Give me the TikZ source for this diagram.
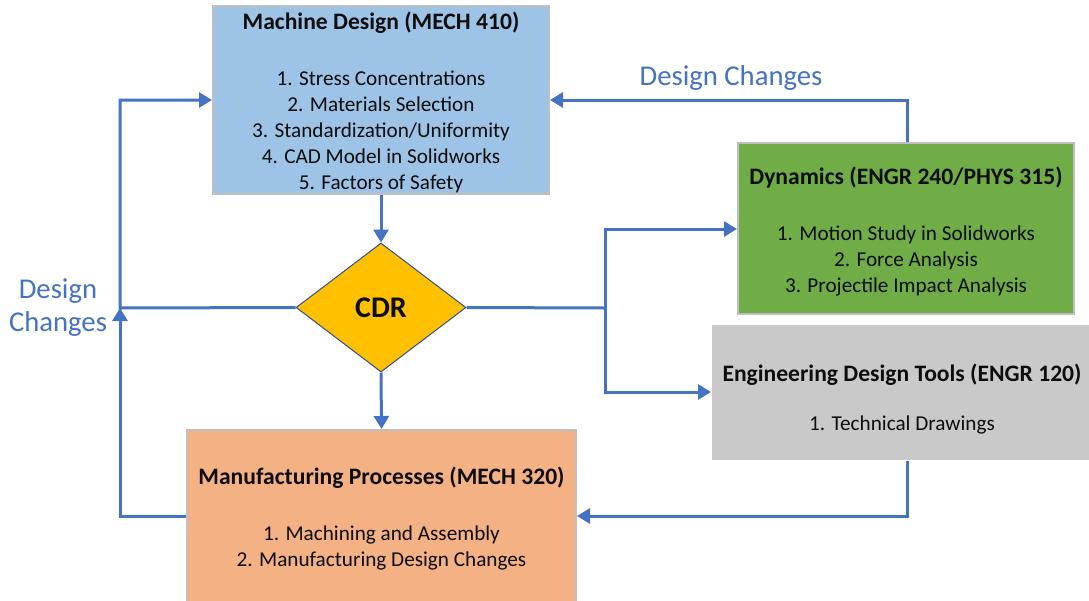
\documentclass[tikz,border=0pt]{standalone}
\usepackage{fontspec}
\setmainfont{Carlito}
\usetikzlibrary{arrows.meta,shapes.geometric}
\definecolor{lineblue}{HTML}{4472C4}
\definecolor{mdfill}{HTML}{9DC3E6}
\definecolor{dynfill}{HTML}{70AD47}
\definecolor{edtfill}{HTML}{C9C9C9}
\definecolor{mfgfill}{HTML}{F4B183}
\definecolor{cdrfill}{HTML}{FFC000}
\definecolor{boxedge}{HTML}{BFBFBF}
\definecolor{txt}{HTML}{0D0D0D}
\tikzset{
  x=1pt,y=-1pt,
  course/.style={rectangle,draw=boxedge,line width=2pt,inner sep=0pt},
  coursetext/.style={inner sep=0pt,align=center,text=txt,font=\fontsize{21.2}{26}\selectfont},
  conn/.style={draw=lineblue,line width=3pt,-{Triangle[length=13pt,width=15pt]}},
  plainconn/.style={draw=lineblue,line width=3pt},
  lbl/.style={text=lineblue,font=\fontsize{28.7}{33}\selectfont,align=center,inner sep=0pt},
}
\newcommand{\ttl}[1]{{\bfseries\fontsize{23.6}{26}\selectfont #1}\\[30pt]}
\begin{document}
\begin{tikzpicture}
\useasboundingbox (0,0) rectangle (1089,600);
\node[course,fill=mdfill,minimum width=336pt,minimum height=188pt] (md) at (381,100) {};
\node[coursetext] (mdt) at (381,102)
  {\ttl{Machine Design (MECH 410)}1. Stress Concentrations\\2. Materials Selection\\3. Standardization/Uniformity\\4. CAD Model in Solidworks\\5. Factors of Safety};
\node[course,fill=dynfill,minimum width=336pt,minimum height=171pt] (dyn) at (906,228.5) {};
\node[coursetext] (dynt) at (906,232)
  {\ttl{Dynamics (ENGR 240/PHYS 315)}1. Motion Study in Solidworks\\2. Force Analysis\\3. Projectile Impact Analysis};
\node[course,fill=edtfill,draw=none,minimum width=380pt,minimum height=135pt] (edt) at (902,392.5) {};
\node[coursetext] (edtt) at (902,399)
  {{\bfseries\fontsize{23.6}{26}\selectfont Engineering Design Tools (ENGR 120)}\\[23pt]1. Technical Drawings};
\node[course,fill=mfgfill,minimum width=389pt,minimum height=176pt] (mfg) at (381.5,518) {};
\node[coursetext] (mfgt) at (381.5,519)
  {\ttl{Manufacturing Processes (MECH 320)}1. Machining and Assembly\\2. Manufacturing Design Changes};
\node[diamond,fill=cdrfill,draw=lineblue!70!black,line width=1pt,minimum width=170pt,minimum height=129pt,inner sep=0pt,
  font=\bfseries\fontsize{30}{32}\selectfont,text=txt] (cdr) at (381,307.5) {CDR};

\coordinate (jl) at (120,308);
\coordinate (jr) at (605,308);

\draw[conn] (md.south) -- (cdr.north);
\draw[conn] (cdr.south) -- (mfg.north);
\draw[conn] (cdr.west) -- (jl) |- (md.west |- 0,100);
\draw[conn] (mfg.west |- 0,516) -| (jl);
\draw[plainconn] (cdr.east) -- (jr);
\draw[conn] (jr) |- (dyn.west |- 0,229);
\draw[conn] (jr) |- (edt.west |- 0,392);
\draw[conn] (dyn.north -| 907,0) |- (md.east |- 0,100);
\draw[conn] (edt.south -| 907,0) |- (mfg.east |- 0,516);

\node[lbl] (dct) at (731,78) {Design Changes};
\node[lbl] (dcl) at (58,308) {Design\\Changes};
\end{tikzpicture}
\end{document}
